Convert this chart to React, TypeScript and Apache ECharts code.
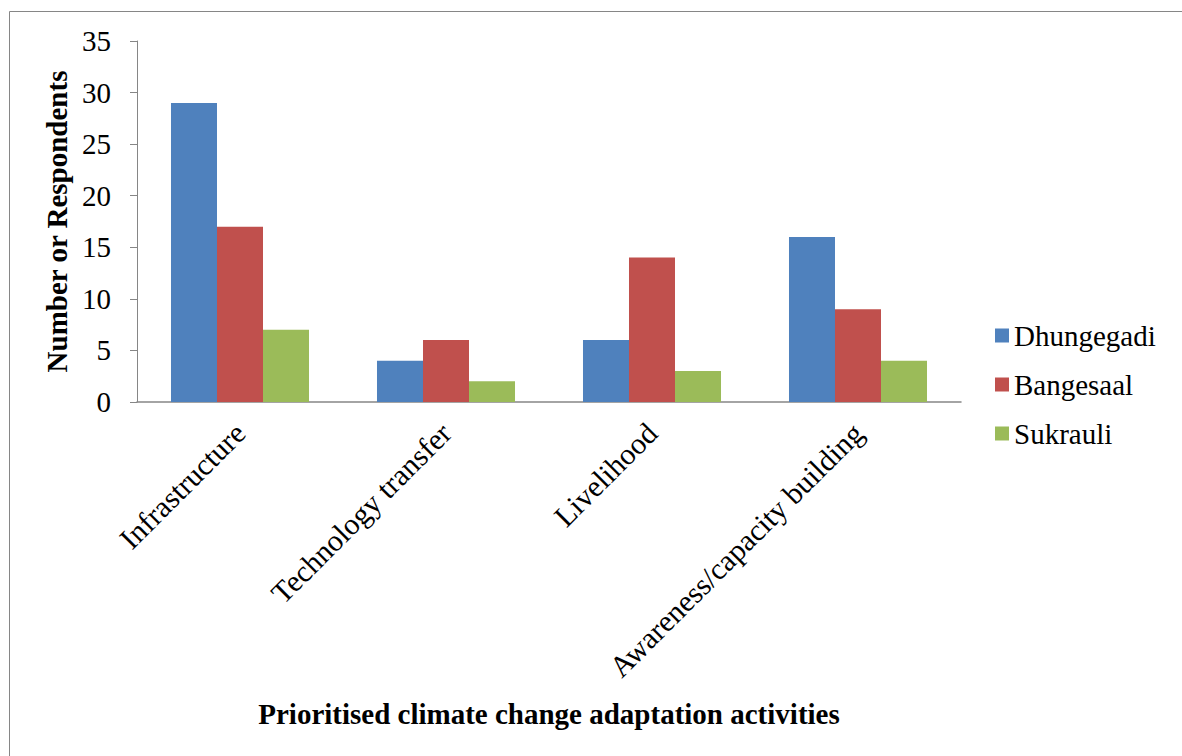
import React, { useEffect, useRef } from "react";
import * as echarts from "echarts";

const categories = ["Infrastructure", "Technology transfer", "Livelihood", "Awareness/capacity building"];
const dhungegadi = [29, 4, 6, 16];
const bangesaal = [17, 6, 14, 9];
const sukrauli = [7, 2, 3, 4];
const seriesNames = ["Dhungegadi", "Bangesaal", "Sukrauli"];
const colors = ["#4F81BD", "#C0504D", "#9BBB59"];

const FONT = "Liberation Serif";

export default function App() {
  const ref = useRef<HTMLDivElement>(null);
  useEffect(() => {
    if (!ref.current) return;
    const chart = echarts.init(ref.current, null, { renderer: "svg" });
    const data = [dhungegadi, bangesaal, sukrauli];
    chart.setOption({
      animation: false,
      textStyle: { fontFamily: FONT },
      graphic: [
        {
          type: "rect",
          shape: { x: 9.5, y: 11.5, width: 1250, height: 800 },
          style: { fill: "none", stroke: "#868686", lineWidth: 1 },
          silent: true,
        },
      ],
      grid: { left: 137, right: 221, top: 41, bottom: 354, containLabel: false },
      legend: {
        orient: "vertical",
        left: 990,
        top: 316,
        itemWidth: 14,
        itemHeight: 14,
        itemGap: 20,
        icon: "rect",
        textStyle: { fontFamily: FONT, fontSize: 29, color: "#000" },
        data: seriesNames,
      },
      xAxis: {
        type: "category",
        data: categories,
        name: "Prioritised climate change adaptation activities",
        nameLocation: "middle",
        nameGap: 297,
        nameTextStyle: { fontFamily: FONT, fontSize: 29, fontWeight: "bold", color: "#000" },
        axisLine: { lineStyle: { color: "#868686", width: 1.5 } },
        axisTick: { show: false },
        axisLabel: { rotate: 45, margin: 26, fontFamily: FONT, fontSize: 30, color: "#000", interval: 0 },
      },
      yAxis: {
        type: "value",
        min: 0,
        max: 35,
        interval: 5,
        name: "Number or Respondents",
        nameLocation: "middle",
        nameGap: 57,
        nameTextStyle: { fontFamily: FONT, fontSize: 29, fontWeight: "bold", color: "#000" },
        axisLine: { show: true, lineStyle: { color: "#868686", width: 1 } },
        axisTick: { show: true, length: 7, lineStyle: { color: "#868686" } },
        splitLine: { show: false },
        axisLabel: { margin: 26, fontFamily: FONT, fontSize: 29, color: "#000" },
      },
      series: seriesNames.map((n, i) => ({
        name: n,
        type: "bar",
        data: data[i],
        itemStyle: { color: colors[i] },
        barGap: "0%",
        barCategoryGap: "33%",
      })),
    });
    return () => chart.dispose();
  }, []);
  return (
    <div
      ref={ref}
      style={{ position: "fixed", left: 0, top: 0, width: 1182, height: 756, background: "#fff" }}
    />
  );
}
